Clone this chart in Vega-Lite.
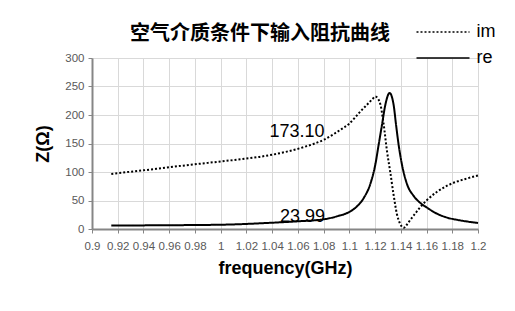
{
  "$schema": "https://vega.github.io/schema/vega-lite/v6.json",
  "width": 386,
  "height": 171,
  "autosize": {"type": "none"},
  "padding": {"left": 92, "top": 58, "right": 37, "bottom": 82},
  "background": "white",
  "title": {
    "text": "空气介质条件下输入阻抗曲线",
    "font": "Noto Sans CJK SC",
    "fontSize": 20,
    "fontWeight": "bold",
    "color": "#000000",
    "anchor": "middle",
    "dx": -25,
    "dy": 28,
    "offset": 7
  },
  "config": {
    "view": {"stroke": null},
    "axis": {
      "labelFont": "Liberation Sans",
      "labelFontSize": 11.5,
      "labelColor": "#595959",
      "titleFont": "Liberation Sans",
      "titleFontSize": 18,
      "titleFontWeight": "bold",
      "titleColor": "#000000",
      "gridColor": "#d9d9d9",
      "gridWidth": 1,
      "domainColor": "#868686",
      "domainWidth": 2,
      "tickColor": "#868686",
      "tickSize": 4,
      "tickWidth": 1
    }
  },
  "layer": [
    {
      "data": {
        "values": [
          {"f": 0.915, "z": 96.5, "series": "im"},
          {"f": 0.93, "z": 100.5, "series": "im"},
          {"f": 0.95, "z": 105.5, "series": "im"},
          {"f": 0.97, "z": 111, "series": "im"},
          {"f": 0.99, "z": 116, "series": "im"},
          {"f": 1.01, "z": 121, "series": "im"},
          {"f": 1.03, "z": 126.5, "series": "im"},
          {"f": 1.05, "z": 135, "series": "im"},
          {"f": 1.065, "z": 144, "series": "im"},
          {"f": 1.08, "z": 156.5, "series": "im"},
          {"f": 1.093, "z": 174, "series": "im"},
          {"f": 1.1, "z": 185, "series": "im"},
          {"f": 1.1085, "z": 206, "series": "im"},
          {"f": 1.115, "z": 221, "series": "im"},
          {"f": 1.118, "z": 228, "series": "im"},
          {"f": 1.1202, "z": 232.5, "series": "im"},
          {"f": 1.1225, "z": 228, "series": "im"},
          {"f": 1.1241, "z": 219, "series": "im"},
          {"f": 1.1266, "z": 185, "series": "im"},
          {"f": 1.1293, "z": 136, "series": "im"},
          {"f": 1.1318, "z": 100, "series": "im"},
          {"f": 1.1344, "z": 60, "series": "im"},
          {"f": 1.137, "z": 26, "series": "im"},
          {"f": 1.1395, "z": 9, "series": "im"},
          {"f": 1.1422, "z": 2, "series": "im"},
          {"f": 1.1445, "z": 7, "series": "im"},
          {"f": 1.1474, "z": 16, "series": "im"},
          {"f": 1.1515, "z": 28, "series": "im"},
          {"f": 1.155, "z": 38, "series": "im"},
          {"f": 1.16, "z": 50, "series": "im"},
          {"f": 1.168, "z": 65, "series": "im"},
          {"f": 1.176, "z": 76, "series": "im"},
          {"f": 1.184, "z": 83.5, "series": "im"},
          {"f": 1.192, "z": 89, "series": "im"},
          {"f": 1.2, "z": 94, "series": "im"},
          {"f": 0.915, "z": 6, "series": "re"},
          {"f": 0.95, "z": 6.5, "series": "re"},
          {"f": 1.0, "z": 7.5, "series": "re"},
          {"f": 1.04, "z": 11, "series": "re"},
          {"f": 1.06, "z": 13.5, "series": "re"},
          {"f": 1.08, "z": 17, "series": "re"},
          {"f": 1.09, "z": 22, "series": "re"},
          {"f": 1.1, "z": 30, "series": "re"},
          {"f": 1.1046, "z": 37, "series": "re"},
          {"f": 1.1111, "z": 54, "series": "re"},
          {"f": 1.1163, "z": 79, "series": "re"},
          {"f": 1.1202, "z": 113, "series": "re"},
          {"f": 1.1228, "z": 148, "series": "re"},
          {"f": 1.1254, "z": 183, "series": "re"},
          {"f": 1.128, "z": 218, "series": "re"},
          {"f": 1.1313, "z": 238.6, "series": "re"},
          {"f": 1.1344, "z": 218, "series": "re"},
          {"f": 1.1363, "z": 183, "series": "re"},
          {"f": 1.1383, "z": 148, "series": "re"},
          {"f": 1.1409, "z": 113, "series": "re"},
          {"f": 1.1448, "z": 79, "series": "re"},
          {"f": 1.15, "z": 58, "series": "re"},
          {"f": 1.155, "z": 46, "series": "re"},
          {"f": 1.16, "z": 38, "series": "re"},
          {"f": 1.168, "z": 27, "series": "re"},
          {"f": 1.176, "z": 20, "series": "re"},
          {"f": 1.184, "z": 16, "series": "re"},
          {"f": 1.192, "z": 13, "series": "re"},
          {"f": 1.2, "z": 10.5, "series": "re"}
        ]
      },
      "mark": {"type": "line", "interpolate": "monotone", "strokeWidth": 2, "strokeCap": "butt", "color": "#000000"},
      "encoding": {
        "x": {
          "field": "f",
          "type": "quantitative",
          "scale": {"domain": [0.9, 1.2], "nice": false, "zero": false},
          "axis": {
            "title": "frequency(GHz)",
            "values": [0.9, 0.92, 0.94, 0.96, 0.98, 1, 1.02, 1.04, 1.06, 1.08, 1.1, 1.12, 1.14, 1.16, 1.18, 1.2],
            "tickCount": 40,
            "labelExpr": "format(datum.value, '~g')",
            "labelPadding": 7,
            "titlePadding": 8,
            "labelFlush": false,
            "labelOverlap": false
          }
        },
        "y": {
          "field": "z",
          "type": "quantitative",
          "scale": {"domain": [0, 300], "nice": false},
          "axis": {
            "title": "Z(Ω)",
            "values": [0, 50, 100, 150, 200, 250, 300],
            "tickCount": 20,
            "labelPadding": 4,
            "titleX": -49,
            "titleY": 85.5,
            "titleAngle": -90,
            "titleAlign": "center",
            "titleBaseline": "middle"
          }
        },
        "strokeDash": {
          "field": "series",
          "type": "nominal",
          "scale": {"domain": ["im", "re"], "range": [[2, 2], [1, 0]]},
          "legend": {
            "title": null,
            "orient": "none",
            "legendX": 342,
            "legendY": -35,
            "symbolType": "M-5.3,0H5.3",
            "symbolSize": 100,
            "symbolStrokeWidth": 1.5,
            "symbolStrokeColor": "#000000",
            "labelFont": "Liberation Sans",
            "labelFontSize": 18,
            "labelColor": "#000000",
            "labelOffset": 24.5,
            "rowPadding": 8
          }
        }
      }
    },
    {
      "data": {
        "values": [
          {"f": 1.0593, "z": 171, "label": "173.10"},
          {"f": 1.0636, "z": 21.6, "label": "23.99"}
        ]
      },
      "mark": {"type": "text", "font": "Liberation Sans", "fontSize": 18, "color": "#000000", "align": "center", "baseline": "middle"},
      "encoding": {
        "x": {"field": "f", "type": "quantitative"},
        "y": {"field": "z", "type": "quantitative"},
        "text": {"field": "label"}
      }
    }
  ]
}
